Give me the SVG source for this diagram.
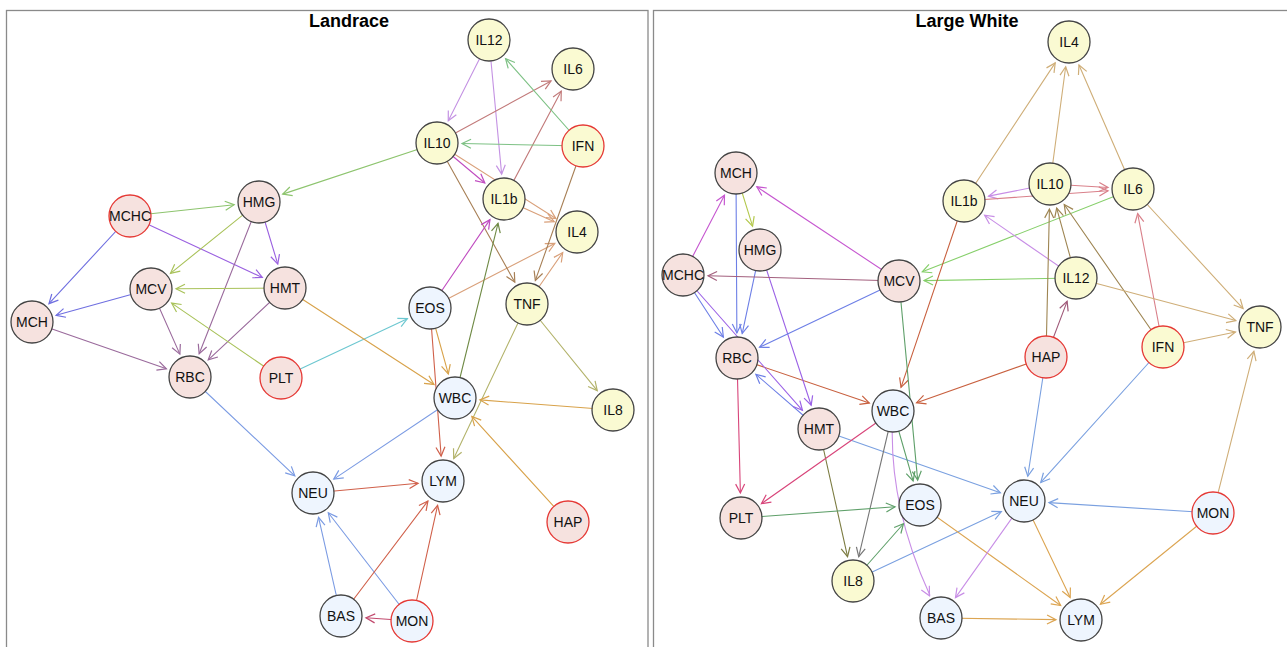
<svg xmlns="http://www.w3.org/2000/svg" width="1287" height="647" viewBox="0 0 1287 647">
<style>
.panel{fill:none;stroke:#8a8a8a;stroke-width:1.3}
.title{font-family:"Liberation Sans",Arial,sans-serif;font-size:18px;font-weight:bold;fill:#000;text-anchor:middle}
.node circle{stroke:#444;stroke-width:1.3}
.node.r circle{stroke:#e53935}
.node.y circle{fill:#fafad2}
.node.p circle{fill:#f6e2df}
.node.b circle{fill:#eef5fe}
.node text{font-family:"Liberation Sans",Arial,sans-serif;font-size:14px;fill:#111;text-anchor:middle}
.e{fill:none;stroke-width:1.1;stroke-dasharray:0 25 100000}
marker path{fill:none;stroke-width:1.2}
.green1{stroke:#8dc46e;marker-start:url(#a-green1)}
.bviol{stroke:#6f6fe0;marker-start:url(#a-bviol)}
.purple{stroke:#9a60e0;marker-start:url(#a-purple)}
.ygreen{stroke:#a9c25a;marker-start:url(#a-ygreen)}
.mauve{stroke:#9a6a9c;marker-start:url(#a-mauve)}
.cyan{stroke:#6cc7d0;marker-start:url(#a-cyan)}
.orange{stroke:#d8a24a;marker-start:url(#a-orange)}
.blue{stroke:#7b9be3;marker-start:url(#a-blue)}
.lav{stroke:#c492e3;marker-start:url(#a-lav)}
.rosy{stroke:#c27a7a;marker-start:url(#a-rosy)}
.green2{stroke:#7dc184;marker-start:url(#a-green2)}
.magenta{stroke:#c04cc0;marker-start:url(#a-magenta)}
.tan{stroke:#d9a07a;marker-start:url(#a-tan)}
.brown{stroke:#a77f55;marker-start:url(#a-brown)}
.olivegreen{stroke:#6f8a45;marker-start:url(#a-olivegreen)}
.red{stroke:#d0604a;marker-start:url(#a-red)}
.olive{stroke:#b3b36b;marker-start:url(#a-olive)}
.crimson{stroke:#c24a6e;marker-start:url(#a-crimson)}
.rtan{stroke:#cfae78;marker-start:url(#a-rtan)}
.rlav{stroke:#c88ee6;marker-start:url(#a-rlav)}
.rrose{stroke:#d9808a;marker-start:url(#a-rrose)}
.rgreen{stroke:#86cf6a;marker-start:url(#a-rgreen)}
.rbrown{stroke:#9e8552;marker-start:url(#a-rbrown)}
.rmauve{stroke:#a05a7a;marker-start:url(#a-rmauve)}
.rred{stroke:#c8603f;marker-start:url(#a-rred)}
.rblue{stroke:#7aa0e0;marker-start:url(#a-rblue)}
.rorange{stroke:#dca552;marker-start:url(#a-rorange)}
.rdgreen{stroke:#5fa06a;marker-start:url(#a-rdgreen)}
.gray{stroke:#777777;marker-start:url(#a-gray)}
.olivedark{stroke:#7c7c42;marker-start:url(#a-olivedark)}
.pink{stroke:#d8457a;marker-start:url(#a-pink)}
.rblue2{stroke:#6d7fe6;marker-start:url(#a-rblue2)}
.rpurple{stroke:#9b62e6;marker-start:url(#a-rpurple)}
.rmauve2{stroke:#a3607e;marker-start:url(#a-rmauve2)}
.rmagenta{stroke:#c657d0;marker-start:url(#a-rmagenta)}
.rygreen{stroke:#b3c84d;marker-start:url(#a-rygreen)}
</style>
<defs>
<marker id="a-green1" markerUnits="userSpaceOnUse" orient="auto-start-reverse" overflow="visible" markerWidth="1" markerHeight="1"><path d="M-34,-4.5L-25,0L-34,4.5" stroke="#8dc46e"/></marker>
<marker id="a-bviol" markerUnits="userSpaceOnUse" orient="auto-start-reverse" overflow="visible" markerWidth="1" markerHeight="1"><path d="M-34,-4.5L-25,0L-34,4.5" stroke="#6f6fe0"/></marker>
<marker id="a-purple" markerUnits="userSpaceOnUse" orient="auto-start-reverse" overflow="visible" markerWidth="1" markerHeight="1"><path d="M-34,-4.5L-25,0L-34,4.5" stroke="#9a60e0"/></marker>
<marker id="a-ygreen" markerUnits="userSpaceOnUse" orient="auto-start-reverse" overflow="visible" markerWidth="1" markerHeight="1"><path d="M-34,-4.5L-25,0L-34,4.5" stroke="#a9c25a"/></marker>
<marker id="a-mauve" markerUnits="userSpaceOnUse" orient="auto-start-reverse" overflow="visible" markerWidth="1" markerHeight="1"><path d="M-34,-4.5L-25,0L-34,4.5" stroke="#9a6a9c"/></marker>
<marker id="a-cyan" markerUnits="userSpaceOnUse" orient="auto-start-reverse" overflow="visible" markerWidth="1" markerHeight="1"><path d="M-34,-4.5L-25,0L-34,4.5" stroke="#6cc7d0"/></marker>
<marker id="a-orange" markerUnits="userSpaceOnUse" orient="auto-start-reverse" overflow="visible" markerWidth="1" markerHeight="1"><path d="M-34,-4.5L-25,0L-34,4.5" stroke="#d8a24a"/></marker>
<marker id="a-blue" markerUnits="userSpaceOnUse" orient="auto-start-reverse" overflow="visible" markerWidth="1" markerHeight="1"><path d="M-34,-4.5L-25,0L-34,4.5" stroke="#7b9be3"/></marker>
<marker id="a-lav" markerUnits="userSpaceOnUse" orient="auto-start-reverse" overflow="visible" markerWidth="1" markerHeight="1"><path d="M-34,-4.5L-25,0L-34,4.5" stroke="#c492e3"/></marker>
<marker id="a-rosy" markerUnits="userSpaceOnUse" orient="auto-start-reverse" overflow="visible" markerWidth="1" markerHeight="1"><path d="M-34,-4.5L-25,0L-34,4.5" stroke="#c27a7a"/></marker>
<marker id="a-green2" markerUnits="userSpaceOnUse" orient="auto-start-reverse" overflow="visible" markerWidth="1" markerHeight="1"><path d="M-34,-4.5L-25,0L-34,4.5" stroke="#7dc184"/></marker>
<marker id="a-magenta" markerUnits="userSpaceOnUse" orient="auto-start-reverse" overflow="visible" markerWidth="1" markerHeight="1"><path d="M-34,-4.5L-25,0L-34,4.5" stroke="#c04cc0"/></marker>
<marker id="a-tan" markerUnits="userSpaceOnUse" orient="auto-start-reverse" overflow="visible" markerWidth="1" markerHeight="1"><path d="M-34,-4.5L-25,0L-34,4.5" stroke="#d9a07a"/></marker>
<marker id="a-brown" markerUnits="userSpaceOnUse" orient="auto-start-reverse" overflow="visible" markerWidth="1" markerHeight="1"><path d="M-34,-4.5L-25,0L-34,4.5" stroke="#a77f55"/></marker>
<marker id="a-olivegreen" markerUnits="userSpaceOnUse" orient="auto-start-reverse" overflow="visible" markerWidth="1" markerHeight="1"><path d="M-34,-4.5L-25,0L-34,4.5" stroke="#6f8a45"/></marker>
<marker id="a-red" markerUnits="userSpaceOnUse" orient="auto-start-reverse" overflow="visible" markerWidth="1" markerHeight="1"><path d="M-34,-4.5L-25,0L-34,4.5" stroke="#d0604a"/></marker>
<marker id="a-olive" markerUnits="userSpaceOnUse" orient="auto-start-reverse" overflow="visible" markerWidth="1" markerHeight="1"><path d="M-34,-4.5L-25,0L-34,4.5" stroke="#b3b36b"/></marker>
<marker id="a-crimson" markerUnits="userSpaceOnUse" orient="auto-start-reverse" overflow="visible" markerWidth="1" markerHeight="1"><path d="M-34,-4.5L-25,0L-34,4.5" stroke="#c24a6e"/></marker>
<marker id="a-rtan" markerUnits="userSpaceOnUse" orient="auto-start-reverse" overflow="visible" markerWidth="1" markerHeight="1"><path d="M-34,-4.5L-25,0L-34,4.5" stroke="#cfae78"/></marker>
<marker id="a-rlav" markerUnits="userSpaceOnUse" orient="auto-start-reverse" overflow="visible" markerWidth="1" markerHeight="1"><path d="M-34,-4.5L-25,0L-34,4.5" stroke="#c88ee6"/></marker>
<marker id="a-rrose" markerUnits="userSpaceOnUse" orient="auto-start-reverse" overflow="visible" markerWidth="1" markerHeight="1"><path d="M-34,-4.5L-25,0L-34,4.5" stroke="#d9808a"/></marker>
<marker id="a-rgreen" markerUnits="userSpaceOnUse" orient="auto-start-reverse" overflow="visible" markerWidth="1" markerHeight="1"><path d="M-34,-4.5L-25,0L-34,4.5" stroke="#86cf6a"/></marker>
<marker id="a-rbrown" markerUnits="userSpaceOnUse" orient="auto-start-reverse" overflow="visible" markerWidth="1" markerHeight="1"><path d="M-34,-4.5L-25,0L-34,4.5" stroke="#9e8552"/></marker>
<marker id="a-rmauve" markerUnits="userSpaceOnUse" orient="auto-start-reverse" overflow="visible" markerWidth="1" markerHeight="1"><path d="M-34,-4.5L-25,0L-34,4.5" stroke="#a05a7a"/></marker>
<marker id="a-rred" markerUnits="userSpaceOnUse" orient="auto-start-reverse" overflow="visible" markerWidth="1" markerHeight="1"><path d="M-34,-4.5L-25,0L-34,4.5" stroke="#c8603f"/></marker>
<marker id="a-rblue" markerUnits="userSpaceOnUse" orient="auto-start-reverse" overflow="visible" markerWidth="1" markerHeight="1"><path d="M-34,-4.5L-25,0L-34,4.5" stroke="#7aa0e0"/></marker>
<marker id="a-rorange" markerUnits="userSpaceOnUse" orient="auto-start-reverse" overflow="visible" markerWidth="1" markerHeight="1"><path d="M-34,-4.5L-25,0L-34,4.5" stroke="#dca552"/></marker>
<marker id="a-rdgreen" markerUnits="userSpaceOnUse" orient="auto-start-reverse" overflow="visible" markerWidth="1" markerHeight="1"><path d="M-34,-4.5L-25,0L-34,4.5" stroke="#5fa06a"/></marker>
<marker id="a-gray" markerUnits="userSpaceOnUse" orient="auto-start-reverse" overflow="visible" markerWidth="1" markerHeight="1"><path d="M-34,-4.5L-25,0L-34,4.5" stroke="#777777"/></marker>
<marker id="a-olivedark" markerUnits="userSpaceOnUse" orient="auto-start-reverse" overflow="visible" markerWidth="1" markerHeight="1"><path d="M-34,-4.5L-25,0L-34,4.5" stroke="#7c7c42"/></marker>
<marker id="a-pink" markerUnits="userSpaceOnUse" orient="auto-start-reverse" overflow="visible" markerWidth="1" markerHeight="1"><path d="M-34,-4.5L-25,0L-34,4.5" stroke="#d8457a"/></marker>
<marker id="a-rblue2" markerUnits="userSpaceOnUse" orient="auto-start-reverse" overflow="visible" markerWidth="1" markerHeight="1"><path d="M-34,-4.5L-25,0L-34,4.5" stroke="#6d7fe6"/></marker>
<marker id="a-rpurple" markerUnits="userSpaceOnUse" orient="auto-start-reverse" overflow="visible" markerWidth="1" markerHeight="1"><path d="M-34,-4.5L-25,0L-34,4.5" stroke="#9b62e6"/></marker>
<marker id="a-rmauve2" markerUnits="userSpaceOnUse" orient="auto-start-reverse" overflow="visible" markerWidth="1" markerHeight="1"><path d="M-34,-4.5L-25,0L-34,4.5" stroke="#a3607e"/></marker>
<marker id="a-rmagenta" markerUnits="userSpaceOnUse" orient="auto-start-reverse" overflow="visible" markerWidth="1" markerHeight="1"><path d="M-34,-4.5L-25,0L-34,4.5" stroke="#c657d0"/></marker>
<marker id="a-rygreen" markerUnits="userSpaceOnUse" orient="auto-start-reverse" overflow="visible" markerWidth="1" markerHeight="1"><path d="M-34,-4.5L-25,0L-34,4.5" stroke="#b3c84d"/></marker>
</defs>
<rect width="1287" height="647" fill="#fff"/>
<rect class="panel" x="6.5" y="10.5" width="641.5" height="660"/>
<rect class="panel" x="653.5" y="10.5" width="660" height="660"/>
<text class="title" x="349" y="27">Landrace</text>
<text class="title" x="967" y="27">Large White</text>
<g id="edges">
<g id="edges-landrace">
<line class="e green1" x1="259" y1="202" x2="130" y2="216"/>
<line class="e green1" x1="259" y1="202" x2="437" y2="143"/>
<line class="e bviol" x1="32" y1="322" x2="130" y2="216"/>
<line class="e purple" x1="285" y1="288" x2="130" y2="216"/>
<line class="e ygreen" x1="151" y1="289" x2="259" y2="202"/>
<line class="e purple" x1="285" y1="288" x2="259" y2="202"/>
<line class="e mauve" x1="190" y1="377" x2="259" y2="202"/>
<line class="e ygreen" x1="151" y1="289" x2="285" y2="288"/>
<line class="e bviol" x1="32" y1="322" x2="151" y2="289"/>
<line class="e mauve" x1="190" y1="377" x2="151" y2="289"/>
<line class="e mauve" x1="190" y1="377" x2="285" y2="288"/>
<line class="e mauve" x1="190" y1="377" x2="32" y2="322"/>
<line class="e ygreen" x1="151" y1="289" x2="281" y2="378"/>
<line class="e cyan" x1="430" y1="308" x2="281" y2="378"/>
<line class="e orange" x1="455" y1="398" x2="285" y2="288"/>
<line class="e blue" x1="313" y1="493" x2="190" y2="377"/>
<line class="e lav" x1="437" y1="143" x2="489" y2="40"/>
<line class="e lav" x1="504" y1="199" x2="489" y2="40"/>
<line class="e rosy" x1="573" y1="69" x2="437" y2="143"/>
<line class="e rosy" x1="573" y1="69" x2="504" y2="199"/>
<line class="e green2" x1="489" y1="40" x2="583" y2="146"/>
<line class="e green2" x1="437" y1="143" x2="583" y2="146"/>
<line class="e magenta" x1="504" y1="199" x2="437" y2="143"/>
<line class="e tan" x1="577" y1="232" x2="437" y2="143"/>
<line class="e tan" x1="577" y1="232" x2="504" y2="199"/>
<line class="e tan" x1="577" y1="232" x2="430" y2="308"/>
<line class="e tan" x1="577" y1="232" x2="527" y2="304"/>
<line class="e brown" x1="527" y1="304" x2="437" y2="143"/>
<line class="e brown" x1="527" y1="304" x2="583" y2="146"/>
<line class="e magenta" x1="504" y1="199" x2="430" y2="308"/>
<line class="e olivegreen" x1="504" y1="199" x2="455" y2="398"/>
<line class="e orange" x1="455" y1="398" x2="430" y2="308"/>
<line class="e red" x1="443" y1="481" x2="430" y2="308"/>
<line class="e olive" x1="443" y1="481" x2="527" y2="304"/>
<line class="e olive" x1="613" y1="410" x2="527" y2="304"/>
<line class="e orange" x1="455" y1="398" x2="613" y2="410"/>
<line class="e orange" x1="455" y1="398" x2="568" y2="522"/>
<line class="e blue" x1="313" y1="493" x2="455" y2="398"/>
<line class="e red" x1="443" y1="481" x2="313" y2="493"/>
<line class="e blue" x1="313" y1="493" x2="341" y2="616"/>
<line class="e blue" x1="313" y1="493" x2="412" y2="621"/>
<line class="e red" x1="443" y1="481" x2="341" y2="616"/>
<line class="e red" x1="443" y1="481" x2="412" y2="621"/>
<line class="e crimson" x1="341" y1="616" x2="412" y2="621"/>
</g>
<g id="edges-largewhite">
<line class="e rtan" x1="1069" y1="42" x2="964" y2="201"/>
<line class="e rtan" x1="1069" y1="42" x2="1050" y2="184"/>
<line class="e rtan" x1="1069" y1="42" x2="1133" y2="189"/>
<line class="e rlav" x1="964" y1="201" x2="1050" y2="184"/>
<line class="e rrose" x1="1133" y1="189" x2="1050" y2="184"/>
<line class="e rrose" x1="1133" y1="189" x2="964" y2="201"/>
<line class="e rgreen" x1="899" y1="281" x2="1133" y2="189"/>
<line class="e rgreen" x1="899" y1="281" x2="1076" y2="278"/>
<line class="e rlav" x1="964" y1="201" x2="1076" y2="278"/>
<line class="e rbrown" x1="1050" y1="184" x2="1076" y2="278"/>
<line class="e rbrown" x1="1050" y1="184" x2="1046" y2="357"/>
<line class="e rbrown" x1="1050" y1="184" x2="1163" y2="347"/>
<line class="e rmauve" x1="1076" y1="278" x2="1046" y2="357"/>
<line class="e rrose" x1="1133" y1="189" x2="1163" y2="347"/>
<line class="e rtan" x1="1260" y1="327" x2="1133" y2="189"/>
<line class="e rtan" x1="1260" y1="327" x2="1076" y2="278"/>
<line class="e rtan" x1="1260" y1="327" x2="1163" y2="347"/>
<line class="e rtan" x1="1260" y1="327" x2="1213" y2="513"/>
<line class="e rred" x1="893" y1="411" x2="1046" y2="357"/>
<line class="e rred" x1="893" y1="411" x2="964" y2="201"/>
<line class="e rblue" x1="1024" y1="501" x2="1046" y2="357"/>
<line class="e rblue" x1="1024" y1="501" x2="1163" y2="347"/>
<line class="e rblue" x1="1024" y1="501" x2="1213" y2="513"/>
<line class="e rblue" x1="1024" y1="501" x2="819" y2="429"/>
<line class="e rblue" x1="1024" y1="501" x2="853" y2="581"/>
<line class="e rorange" x1="1081" y1="620" x2="1024" y2="501"/>
<line class="e rorange" x1="1081" y1="620" x2="920" y2="505"/>
<line class="e rorange" x1="1081" y1="620" x2="1213" y2="513"/>
<line class="e rorange" x1="1081" y1="620" x2="941" y2="618"/>
<line class="e rlav" x1="941" y1="618" x2="1024" y2="501"/>
<path class="e rlav" d="M941,618 Q886,512 893,411"/>
<line class="e rdgreen" x1="920" y1="505" x2="893" y2="411"/>
<line class="e rdgreen" x1="920" y1="505" x2="899" y2="281"/>
<line class="e gray" x1="853" y1="581" x2="893" y2="411"/>
<line class="e olivedark" x1="853" y1="581" x2="819" y2="429"/>
<line class="e rdgreen" x1="920" y1="505" x2="853" y2="581"/>
<line class="e rdgreen" x1="920" y1="505" x2="741" y2="518"/>
<line class="e pink" x1="741" y1="518" x2="893" y2="411"/>
<line class="e pink" x1="741" y1="518" x2="737" y2="358"/>
<line class="e rred" x1="893" y1="411" x2="737" y2="358"/>
<line class="e rblue2" x1="737" y1="358" x2="819" y2="429"/>
<line class="e rpurple" x1="819" y1="429" x2="683" y2="275"/>
<line class="e rpurple" x1="819" y1="429" x2="760" y2="250"/>
<line class="e rblue2" x1="737" y1="358" x2="683" y2="275"/>
<line class="e rblue2" x1="737" y1="358" x2="736" y2="173"/>
<line class="e rblue2" x1="737" y1="358" x2="760" y2="250"/>
<line class="e rblue2" x1="737" y1="358" x2="899" y2="281"/>
<line class="e rmauve2" x1="683" y1="275" x2="899" y2="281"/>
<line class="e rmagenta" x1="736" y1="173" x2="899" y2="281"/>
<line class="e rmagenta" x1="736" y1="173" x2="683" y2="275"/>
<line class="e rygreen" x1="760" y1="250" x2="736" y2="173"/>
</g>
</g>
<g id="nodes-landrace">
<g id="L-IL12" class="node y"><circle cx="489" cy="40" r="21"/><text x="489" y="45">IL12</text></g>
<g id="L-IL6" class="node y"><circle cx="573" cy="69" r="21"/><text x="573" y="74">IL6</text></g>
<g id="L-IL10" class="node y"><circle cx="437" cy="143" r="21"/><text x="437" y="148">IL10</text></g>
<g id="L-IFN" class="node y r"><circle cx="583" cy="146" r="21"/><text x="583" y="151">IFN</text></g>
<g id="L-IL1b" class="node y"><circle cx="504" cy="199" r="21"/><text x="504" y="204">IL1b</text></g>
<g id="L-IL4" class="node y"><circle cx="577" cy="232" r="21"/><text x="577" y="237">IL4</text></g>
<g id="L-TNF" class="node y"><circle cx="527" cy="304" r="21"/><text x="527" y="309">TNF</text></g>
<g id="L-EOS" class="node b"><circle cx="430" cy="308" r="21"/><text x="430" y="313">EOS</text></g>
<g id="L-WBC" class="node b"><circle cx="455" cy="398" r="21"/><text x="455" y="403">WBC</text></g>
<g id="L-IL8" class="node y"><circle cx="613" cy="410" r="21"/><text x="613" y="415">IL8</text></g>
<g id="L-HMG" class="node p"><circle cx="259" cy="202" r="21"/><text x="259" y="207">HMG</text></g>
<g id="L-MCHC" class="node p r"><circle cx="130" cy="216" r="21"/><text x="130" y="221">MCHC</text></g>
<g id="L-MCV" class="node p"><circle cx="151" cy="289" r="21"/><text x="151" y="294">MCV</text></g>
<g id="L-HMT" class="node p"><circle cx="285" cy="288" r="21"/><text x="285" y="293">HMT</text></g>
<g id="L-MCH" class="node p"><circle cx="32" cy="322" r="21"/><text x="32" y="327">MCH</text></g>
<g id="L-RBC" class="node p"><circle cx="190" cy="377" r="21"/><text x="190" y="382">RBC</text></g>
<g id="L-PLT" class="node p r"><circle cx="281" cy="378" r="21"/><text x="281" y="383">PLT</text></g>
<g id="L-NEU" class="node b"><circle cx="313" cy="493" r="21"/><text x="313" y="498">NEU</text></g>
<g id="L-LYM" class="node b"><circle cx="443" cy="481" r="21"/><text x="443" y="486">LYM</text></g>
<g id="L-HAP" class="node p r"><circle cx="568" cy="522" r="21"/><text x="568" y="527">HAP</text></g>
<g id="L-BAS" class="node b"><circle cx="341" cy="616" r="21"/><text x="341" y="621">BAS</text></g>
<g id="L-MON" class="node b r"><circle cx="412" cy="621" r="21"/><text x="412" y="626">MON</text></g>
</g>
<g id="nodes-largewhite">
<g id="W-IL4" class="node y"><circle cx="1069" cy="42" r="21"/><text x="1069" y="47">IL4</text></g>
<g id="W-IL10" class="node y"><circle cx="1050" cy="184" r="21"/><text x="1050" y="189">IL10</text></g>
<g id="W-IL6" class="node y"><circle cx="1133" cy="189" r="21"/><text x="1133" y="194">IL6</text></g>
<g id="W-IL1b" class="node y"><circle cx="964" cy="201" r="21"/><text x="964" y="206">IL1b</text></g>
<g id="W-IL12" class="node y"><circle cx="1076" cy="278" r="21"/><text x="1076" y="283">IL12</text></g>
<g id="W-MCH" class="node p"><circle cx="736" cy="173" r="21"/><text x="736" y="178">MCH</text></g>
<g id="W-HMG" class="node p"><circle cx="760" cy="250" r="21"/><text x="760" y="255">HMG</text></g>
<g id="W-MCHC" class="node p"><circle cx="683" cy="275" r="21"/><text x="683" y="280">MCHC</text></g>
<g id="W-MCV" class="node p"><circle cx="899" cy="281" r="21"/><text x="899" y="286">MCV</text></g>
<g id="W-RBC" class="node p"><circle cx="737" cy="358" r="21"/><text x="737" y="363">RBC</text></g>
<g id="W-WBC" class="node b"><circle cx="893" cy="411" r="21"/><text x="893" y="416">WBC</text></g>
<g id="W-HMT" class="node p"><circle cx="819" cy="429" r="21"/><text x="819" y="434">HMT</text></g>
<g id="W-PLT" class="node p"><circle cx="741" cy="518" r="21"/><text x="741" y="523">PLT</text></g>
<g id="W-EOS" class="node b"><circle cx="920" cy="505" r="21"/><text x="920" y="510">EOS</text></g>
<g id="W-IL8" class="node y"><circle cx="853" cy="581" r="21"/><text x="853" y="586">IL8</text></g>
<g id="W-BAS" class="node b"><circle cx="941" cy="618" r="21"/><text x="941" y="623">BAS</text></g>
<g id="W-HAP" class="node p r"><circle cx="1046" cy="357" r="21"/><text x="1046" y="362">HAP</text></g>
<g id="W-IFN" class="node y r"><circle cx="1163" cy="347" r="21"/><text x="1163" y="352">IFN</text></g>
<g id="W-TNF" class="node y"><circle cx="1260" cy="327" r="21"/><text x="1260" y="332">TNF</text></g>
<g id="W-NEU" class="node b"><circle cx="1024" cy="501" r="21"/><text x="1024" y="506">NEU</text></g>
<g id="W-MON" class="node b r"><circle cx="1213" cy="513" r="21"/><text x="1213" y="518">MON</text></g>
<g id="W-LYM" class="node b"><circle cx="1081" cy="620" r="21"/><text x="1081" y="625">LYM</text></g>
</g>
</svg>
